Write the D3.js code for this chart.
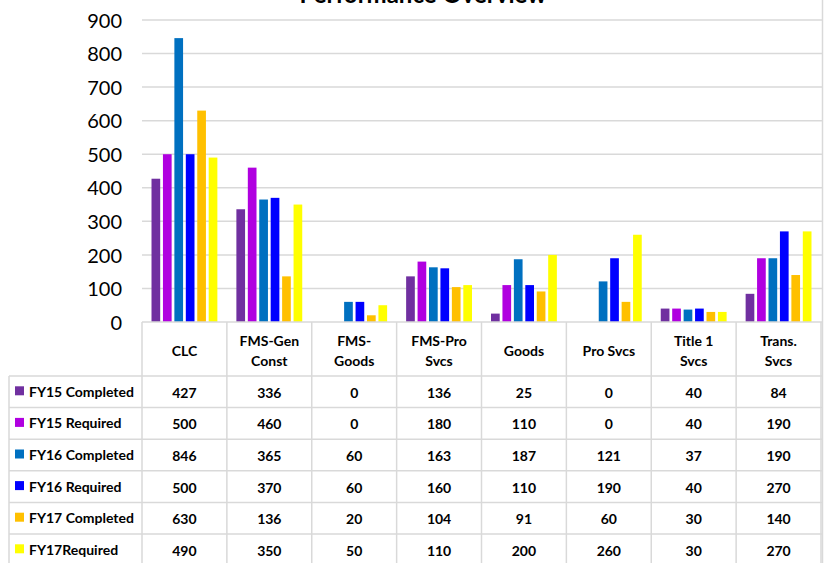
<!DOCTYPE html>
<html>
<head>
<meta charset="utf-8">
<script src="https://cdn.jsdelivr.net/npm/d3@7"></script>
<style>
  html, body { margin: 0; padding: 0; background: #fff; }
  svg { display: block; font-family: Lato, "Open Sans", sans-serif; }
</style>
</head>
<body>
<svg id="chart" width="825" height="563"></svg>
<script>
// Categories and their two-line header text in the data table
const categories = ["CLC", "FMS-Gen Const", "FMS-Goods", "FMS-Pro Svcs", "Goods", "Pro Svcs", "Title 1 Svcs", "Trans. Svcs"];
const headerLines = [["CLC"], ["FMS-Gen", "Const"], ["FMS-", "Goods"], ["FMS-Pro", "Svcs"], ["Goods"], ["Pro Svcs"], ["Title 1", "Svcs"], ["Trans.", "Svcs"]];

const seriesNames = ["FY15 Completed", "FY15 Required", "FY16 Completed", "FY16 Required", "FY17 Completed", "FY17Required"];
const seriesColors = ["#7030A0", "#B000E0", "#0070C0", "#0000FF", "#FFC000", "#FFFF00"];

const fy15Completed = [427, 336, 0, 136, 25, 0, 40, 84];
const fy15Required  = [500, 460, 0, 180, 110, 0, 40, 190];
const fy16Completed = [846, 365, 60, 163, 187, 121, 37, 190];
const fy16Required  = [500, 370, 60, 160, 110, 190, 40, 270];
const fy17Completed = [630, 136, 20, 104, 91, 60, 30, 140];
const fy17Required  = [490, 350, 50, 110, 200, 260, 30, 270];
const seriesValues = [fy15Completed, fy15Required, fy16Completed, fy16Required, fy17Completed, fy17Required];

const yTicks = [0, 100, 200, 300, 400, 500, 600, 700, 800, 900];
const titleText = "Performance Overview";

const svg = d3.select("#chart");
const plot = { left: 142, right: 821, top: 20, bottom: 322 };
const table = { left: 9, headerBottom: 376, rowH: 31.6 };
const gridColor = "#D9D9D9";

const x0 = d3.scaleBand().domain(categories).range([plot.left, plot.right]);
const inset = x0.bandwidth() * 0.112;
const x1 = d3.scaleBand().domain(seriesNames)
  .range([inset, x0.bandwidth() - inset]).paddingInner(0.24);
const y = d3.scaleLinear().domain([0, 900]).range([plot.bottom, plot.top]);

// Title (sits partly above the top edge of the chart area)
svg.append("text")
  .attr("x", 423).attr("y", 3)
  .attr("text-anchor", "middle")
  .attr("font-size", 24).attr("font-weight", 700)
  .attr("fill", "#000")
  .text(titleText);

// Horizontal gridlines
svg.append("g").selectAll("line").data(yTicks.filter(d => d > 0)).join("line")
  .attr("x1", plot.left).attr("x2", plot.right + 1)
  .attr("y1", d => y(d)).attr("y2", d => y(d))
  .attr("stroke", gridColor).attr("stroke-width", 1.5);

// Y axis labels
const yAxis = d3.axisLeft(y).tickValues(yTicks).tickSize(0).tickPadding(0);
const yg = svg.append("g").attr("transform", `translate(122,0)`).call(yAxis);
yg.select(".domain").remove();
yg.selectAll("text")
  .attr("font-family", "Lato, sans-serif")
  .attr("font-size", 20).attr("fill", "#000")
  .attr("dy", "0.36em");

// Bars
const groups = svg.append("g").selectAll("g").data(categories).join("g")
  .attr("transform", d => `translate(${x0(d)},0)`);
groups.selectAll("rect")
  .data((c, ci) => seriesNames.map((s, si) => ({ s, si, v: seriesValues[si][ci] })))
  .join("rect")
  .attr("x", d => x1(d.s))
  .attr("width", x1.bandwidth())
  .attr("y", d => y(d.v))
  .attr("height", d => y(0) - y(d.v))
  .attr("fill", d => seriesColors[d.si]);

// Data table grid
const rowTop = i => table.headerBottom + i * table.rowH;
const tableBottom = rowTop(seriesNames.length);
const tg = svg.append("g").attr("stroke", gridColor).attr("stroke-width", 1.5);
tg.append("line").attr("x1", plot.left).attr("x2", plot.right + 1)
  .attr("y1", plot.bottom).attr("y2", plot.bottom);
d3.range(seriesNames.length + 1).forEach(i => {
  tg.append("line").attr("x1", table.left).attr("x2", plot.right + 1)
    .attr("y1", rowTop(i)).attr("y2", rowTop(i));
});
categories.forEach(c => {
  tg.append("line").attr("x1", x0(c)).attr("x2", x0(c))
    .attr("y1", plot.bottom).attr("y2", tableBottom);
});
tg.append("line").attr("x1", plot.right).attr("x2", plot.right)
  .attr("y1", plot.bottom).attr("y2", tableBottom);
tg.append("line").attr("x1", table.left).attr("x2", table.left)
  .attr("y1", table.headerBottom).attr("y2", tableBottom);
// Outer chart border on the right
tg.append("line").attr("x1", 822.5).attr("x2", 822.5)
  .attr("y1", 0).attr("y2", 563).attr("stroke-width", 1.5);

// Header cells
const headG = svg.append("g").attr("font-size", 14).attr("font-weight", 700)
  .attr("text-anchor", "middle").attr("fill", "#000");
categories.forEach((c, ci) => {
  const lines = headerLines[ci];
  const cx = x0(c) + x0.bandwidth() / 2;
  const cy = (plot.bottom + table.headerBottom) / 2 + 2;
  lines.forEach((ln, li) => {
    headG.append("text")
      .attr("x", cx)
      .attr("y", cy + (li - (lines.length - 1) / 2) * 20.6)
      .attr("dy", "0.36em")
      .text(ln);
  });
});

// Series rows: legend key, name and values
const rowsG = svg.append("g").attr("font-size", 14).attr("font-weight", 700).attr("fill", "#000");
seriesNames.forEach((s, si) => {
  const cy = rowTop(si) + table.rowH / 2;
  rowsG.append("rect")
    .attr("x", 15).attr("y", cy - 5.5).attr("width", 9).attr("height", 9)
    .attr("fill", seriesColors[si]);
  rowsG.append("text")
    .attr("x", 29).attr("y", cy).attr("dy", "0.36em")
    .text(s);
  categories.forEach((c, ci) => {
    rowsG.append("text")
      .attr("x", x0(c) + x0.bandwidth() / 2).attr("y", cy + 1).attr("dy", "0.36em")
      .attr("text-anchor", "middle")
      .text(seriesValues[si][ci]);
  });
});
</script>
</body>
</html>
